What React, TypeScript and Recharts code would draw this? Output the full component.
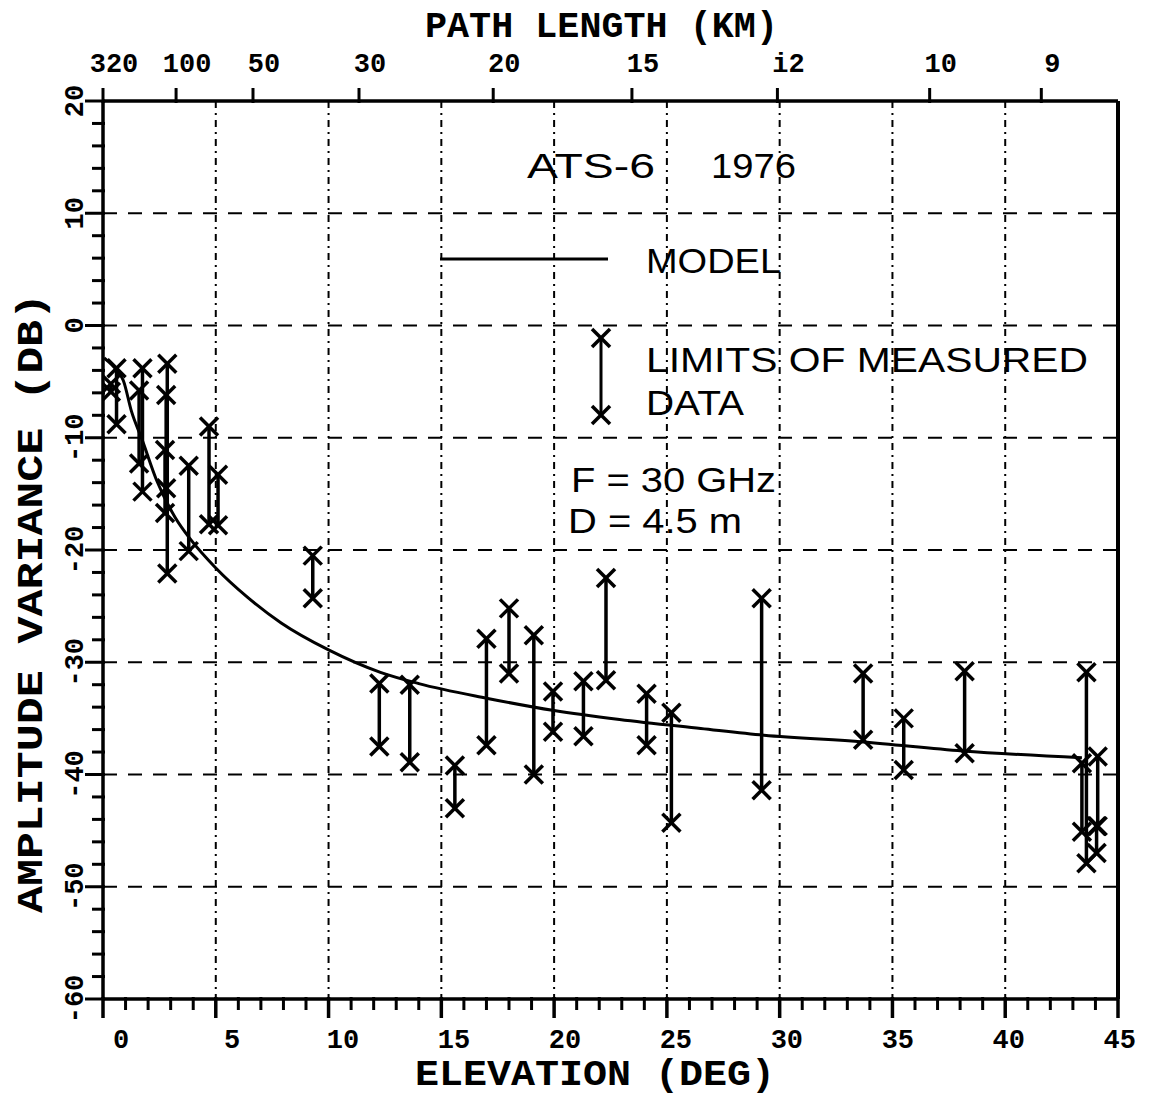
import React from "react";
import {
  CartesianGrid,
  ComposedChart,
  ErrorBar,
  Line,
  Scatter,
  XAxis,
  YAxis,
} from "recharts";

// elevation (deg) of each measured range, with upper / lower limits (dB)
const barElev = [
  0.6, 0.35, 1.75, 1.6, 2.85, 2.8, 2.75, 3.8, 4.7, 5.1, 9.3, 12.25, 13.6, 15.6,
  17.0, 18.0, 19.1, 19.95, 21.3, 22.3, 24.1, 25.2, 29.2, 33.7, 35.5, 38.2,
  43.6, 43.4, 44.1, 44.05,
];
const barHigh = [
  -3.8, -5.2, -3.8, -5.8, -3.4, -6.2, -11.1, -12.5, -9.0, -13.3, -20.5, -31.9,
  -32.0, -39.2, -27.9, -25.2, -27.6, -32.6, -31.7, -22.5, -32.8, -34.5, -24.3,
  -31.0, -35.0, -30.8, -30.9, -39.0, -38.4, -44.6,
];
const barLow = [
  -8.8, -5.9, -14.8, -12.3, -22.1, -14.5, -16.7, -20.1, -17.7, -17.8, -24.3,
  -37.5, -38.9, -43.0, -37.4, -31.0, -40.0, -36.2, -36.6, -31.6, -37.4, -44.3,
  -41.4, -36.9, -39.6, -38.1, -47.9, -45.1, -44.6, -47.0,
];

// model curve
const modelElev = [
  0.05, 0.65, 0.9, 1.27, 1.72, 2.4, 3.2, 3.9, 5.0, 6.4, 7.9, 10.0, 12.3, 14.0,
  17.0, 20.0, 22.9, 26.5, 29.3, 33.7, 38.1, 43.4,
];
const modelDb = [
  -2.9, -4.1, -4.9, -7.7, -10.1, -13.9, -17.1, -19.1, -21.6, -24.2, -26.5,
  -28.9, -30.9, -31.9, -33.2, -34.3, -35.1, -35.9, -36.5, -37.1, -37.9, -38.5,
];

// top axis: path length (km) at elevation (deg)
const pathElev = [0, 3.24, 6.65, 11.35, 17.3, 23.45, 29.9, 36.65, 41.6];
const pathKm = ["320", "100", "50", "30", "20", "15", "i2", "10", "9"];

const elevTicks = Array.from({ length: 46 }, (_, i) => i);
const dbTicks = Array.from({ length: 41 }, (_, i) => -60 + 2 * i);
const elevGrid = [5, 10, 15, 20, 25, 30, 35, 40];
const dbGrid = [-50, -40, -30, -20, -10, 0, 10];

const modelData = modelElev.map((x, i) => ({ x, y: modelDb[i] }));
const barData = barElev.map((x, i) => ({
  x,
  y: (barHigh[i] + barLow[i]) / 2,
  half: (barHigh[i] - barLow[i]) / 2,
}));
const markData = [
  ...barElev.map((x, i) => ({ x, y: barHigh[i] })),
  ...barElev.map((x, i) => ({ x, y: barLow[i] })),
];

const MONO = "'Liberation Mono', 'DejaVu Sans Mono', monospace";
const SANS = "'Liberation Sans', Arial, sans-serif";

const XMark = (props: any) => {
  const { cx, cy } = props;
  const s = 9;
  return (
    <g stroke="#000" strokeWidth={3.5}>
      <line x1={cx - s} y1={cy - s} x2={cx + s} y2={cy + s} />
      <line x1={cx - s} y1={cy + s} x2={cx + s} y2={cy - s} />
    </g>
  );
};

const NoMark = () => <g />;

const BottomTick = (props: any) => {
  const { x, y, payload } = props;
  const v = payload.value as number;
  const major = v % 5 === 0;
  return (
    <g>
      <line
        x1={x}
        x2={x}
        y1={y - 2}
        y2={y + (major ? 19 : 11)}
        stroke="#000"
        strokeWidth={major ? 3.5 : 3}
      />
      {major && (
        <text
          x={x + 18 - 0.36 * v}
          y={y + 49}
          textAnchor="middle"
          fontFamily={MONO}
          fontWeight={700}
          fontSize={27}
          fill="#000"
        >
          {v}
        </text>
      )}
    </g>
  );
};

const TopTick = (props: any) => {
  const { x, y, index } = props;
  return (
    <g>
      <line x1={x} x2={x} y1={y + 2} y2={y - 13} stroke="#000" strokeWidth={3} />
      <text
        x={x + 11}
        y={y - 29}
        textAnchor="middle"
        fontFamily={MONO}
        fontWeight={700}
        fontSize={27}
        fill="#000"
      >
        {pathKm[index]}
      </text>
    </g>
  );
};

const LeftTick = (props: any) => {
  const { x, y, payload } = props;
  const v = payload.value as number;
  const major = v % 10 === 0;
  return (
    <g>
      <line
        x1={x - (major ? 18 : 11)}
        x2={x + 2}
        y1={y}
        y2={y}
        stroke="#000"
        strokeWidth={3}
      />
      {major && (
        <text
          transform={`translate(${x - 30},${y}) rotate(-90)`}
          textAnchor="middle"
          dy="0.36em"
          fontFamily={MONO}
          fontWeight={700}
          fontSize={27}
          fill="#000"
        >
          {v}
        </text>
      )}
    </g>
  );
};

function Overlay() {
  const legendText = {
    fontFamily: SANS,
    fontSize: 35,
    fill: "#000",
    lengthAdjust: "spacingAndGlyphs" as const,
  };
  const titleText = {
    fontFamily: MONO,
    fontWeight: 700,
    fontSize: 37,
    fill: "#000",
    lengthAdjust: "spacingAndGlyphs" as const,
  };
  return (
    <svg
      width={1150}
      height={1096}
      style={{ position: "absolute", left: 0, top: 0, pointerEvents: "none" }}
    >
      <text x={425} y={37} textLength={353} {...titleText}>
        PATH LENGTH (KM)
      </text>
      <text x={415} y={1085} textLength={360} {...titleText}>
        ELEVATION (DEG)
      </text>
      <text
        transform="translate(42,603) rotate(-90)"
        textAnchor="middle"
        textLength={620}
        {...titleText}
      >
        AMPLITUDE VARIANCE (DB)
      </text>

      <text x={527} y={178} textLength={128} {...legendText}>
        ATS-6
      </text>
      <text x={711} y={178} textLength={85} {...legendText}>
        1976
      </text>
      <line x1={440} x2={608} y1={259} y2={259} stroke="#000" strokeWidth={3} />
      <text x={646} y={273} textLength={135} {...legendText}>
        MODEL
      </text>
      <line x1={601} x2={601} y1={338} y2={415} stroke="#000" strokeWidth={3} />
      <XMark cx={601} cy={338} />
      <XMark cx={601} cy={415} />
      <text x={646} y={372} textLength={442} {...legendText}>
        LIMITS OF MEASURED
      </text>
      <text x={646} y={415} textLength={98} {...legendText}>
        DATA
      </text>
      <text x={571} y={492} textLength={205} {...legendText}>
        F = 30 GHz
      </text>
      <text x={568} y={533} textLength={174} {...legendText}>
        D = 4.5 m
      </text>
    </svg>
  );
}

export default function App() {
  return (
    <div
      style={{
        position: "relative",
        width: 1150,
        height: 1096,
        marginLeft: -8,
        marginTop: -8,
        background: "#fff",
      }}
    >
      <ComposedChart
        width={1150}
        height={1096}
        margin={{ top: 0, right: 0, bottom: 0, left: 0 }}
      >
        <CartesianGrid
          xAxisId="bottom"
          yAxisId="left"
          vertical={false}
          horizontalValues={dbGrid}
          stroke="#000"
          strokeWidth={2}
          strokeDasharray="14 11"
        />
        <CartesianGrid
          xAxisId="bottom"
          yAxisId="left"
          horizontal={false}
          verticalValues={elevGrid}
          stroke="#000"
          strokeWidth={2}
          strokeDasharray="7 5 2 5"
        />
        <XAxis
          xAxisId="bottom"
          dataKey="x"
          type="number"
          domain={[0, 45]}
          allowDataOverflow
          ticks={elevTicks}
          interval={0}
          height={97}
          tickSize={0}
          tickMargin={0}
          tickLine={false}
          tick={<BottomTick />}
          axisLine={{ stroke: "#000", strokeWidth: 3.5 }}
        />
        <XAxis
          xAxisId="top"
          orientation="top"
          dataKey="x"
          type="number"
          domain={[0, 45]}
          allowDataOverflow
          ticks={pathElev}
          interval={0}
          height={101}
          tickSize={0}
          tickMargin={0}
          tickLine={false}
          tick={<TopTick />}
          axisLine={{ stroke: "#000", strokeWidth: 3.5 }}
        />
        <YAxis
          yAxisId="left"
          dataKey="y"
          type="number"
          domain={[-60, 20]}
          allowDataOverflow
          ticks={dbTicks}
          interval={0}
          width={103}
          tickSize={0}
          tickMargin={0}
          tickLine={false}
          tick={<LeftTick />}
          axisLine={{ stroke: "#000", strokeWidth: 3.5 }}
        />
        <YAxis
          yAxisId="right"
          orientation="right"
          type="number"
          domain={[-60, 20]}
          width={32}
          tick={false}
          tickLine={false}
          axisLine={{ stroke: "#000", strokeWidth: 4 }}
        />
        <Line
          xAxisId="bottom"
          yAxisId="left"
          data={modelData}
          dataKey="y"
          type="monotone"
          stroke="#000"
          strokeWidth={3}
          dot={false}
          activeDot={false}
          isAnimationActive={false}
        />
        <Scatter
          xAxisId="bottom"
          yAxisId="left"
          data={barData}
          dataKey="y"
          shape={<NoMark />}
          isAnimationActive={false}
        >
          <ErrorBar
            dataKey="half"
            direction="y"
            width={0}
            stroke="#000"
            strokeWidth={3.5}
            isAnimationActive={false}
          />
        </Scatter>
        <Scatter
          xAxisId="bottom"
          yAxisId="left"
          data={markData}
          dataKey="y"
          shape={<XMark />}
          isAnimationActive={false}
        />
      </ComposedChart>
      <Overlay />
    </div>
  );
}
